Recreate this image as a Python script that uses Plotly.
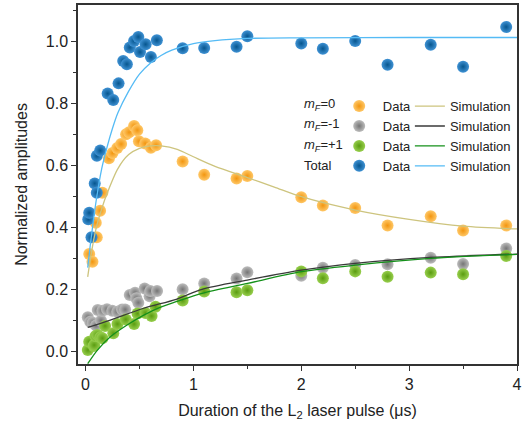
import plotly.graph_objects as go

# ---------------- data ----------------
# m_F = 0 (orange)
x_m0 = [0.034, 0.064, 0.095, 0.104, 0.135, 0.156, 0.217, 0.25, 0.294, 0.33, 0.376, 0.404,
        0.45, 0.48, 0.495, 0.553, 0.606, 0.654,
        0.9, 1.1, 1.4, 1.5, 2.0, 2.2, 2.5, 2.8, 3.2, 3.5, 3.9]
y_m0 = [0.314, 0.289, 0.415, 0.368, 0.454, 0.512, 0.623, 0.640, 0.656, 0.669, 0.701, 0.707,
        0.727, 0.714, 0.678, 0.671, 0.657, 0.665,
        0.613, 0.570, 0.558, 0.566, 0.497, 0.471, 0.463, 0.406, 0.436, 0.390, 0.406]

# m_F = -1 (grey)
x_mm1 = [0.021, 0.043, 0.067, 0.098, 0.113, 0.144, 0.156, 0.199, 0.248, 0.294, 0.339, 0.367,
         0.41, 0.459, 0.471, 0.489, 0.548, 0.594, 0.6, 0.663,
         0.9, 1.1, 1.4, 1.5, 2.0, 2.2, 2.5, 2.8, 3.2, 3.5, 3.9]
y_mm1 = [0.110, 0.095, 0.092, 0.083, 0.133, 0.099, 0.131, 0.136, 0.131, 0.128, 0.135, 0.135,
         0.182, 0.189, 0.171, 0.157, 0.203, 0.178, 0.195, 0.195,
         0.200, 0.219, 0.235, 0.255, 0.244, 0.270, 0.279, 0.281, 0.302, 0.282, 0.332]

# m_F = +1 (green)
x_mp1 = [0.021, 0.034, 0.076, 0.08, 0.092, 0.11, 0.138, 0.156, 0.181, 0.257, 0.296, 0.373,
         0.45, 0.482, 0.555, 0.612, 0.649,
         0.9, 1.1, 1.4, 1.5, 2.0, 2.2, 2.5, 2.8, 3.2, 3.5, 3.9]
y_mp1 = [0.004, 0.031, 0.017, 0.020, 0.049, 0.053, 0.045, 0.042, 0.082, 0.058, 0.088, 0.103,
         0.088, 0.122, 0.124, 0.114, 0.144,
         0.164, 0.193, 0.191, 0.197, 0.258, 0.236, 0.258, 0.241, 0.254, 0.249, 0.308]

# Total (blue)
x_tot = [0.025, 0.034, 0.055, 0.085, 0.104, 0.105, 0.136, 0.205, 0.257, 0.306, 0.349, 0.383,
         0.41, 0.45, 0.489, 0.505, 0.557, 0.606, 0.661,
         0.9, 1.1, 1.4, 1.5, 2.0, 2.2, 2.5, 2.8, 3.2, 3.5, 3.9]
y_tot = [0.426, 0.447, 0.368, 0.542, 0.512, 0.631, 0.648, 0.832, 0.811, 0.865, 0.937, 0.927,
         0.981, 1.002, 1.015, 0.966, 0.991, 0.950, 1.004,
         0.978, 0.979, 0.983, 1.017, 0.994, 0.977, 1.002, 0.925, 0.990, 0.919, 1.047]

# Simulation curves
xs_m0 = [0.02, 0.05, 0.1, 0.15, 0.2, 0.3, 0.4, 0.5, 0.6, 0.7, 0.85, 1.0, 1.2, 1.5, 1.75,
         2.0, 2.5, 3.0, 3.5, 4.0]
ys_m0 = [0.24, 0.31, 0.40, 0.46, 0.51, 0.59, 0.635, 0.655, 0.663, 0.663, 0.652, 0.628, 0.597,
         0.561, 0.53, 0.499, 0.456, 0.426, 0.404, 0.395]

xs_mm1 = [0.02, 0.23, 0.54, 0.84, 1.08, 1.5, 2.0, 2.5, 3.2, 4.0]
ys_mm1 = [0.077, 0.101, 0.139, 0.168, 0.200, 0.230, 0.262, 0.284, 0.303, 0.314]

xs_mp1 = [0.02, 0.11, 0.23, 0.385, 0.54, 0.69, 0.84, 1.08, 1.5, 2.0, 2.5, 3.2, 4.0]
ys_mp1 = [-0.04, 0.004, 0.047, 0.085, 0.117, 0.142, 0.160, 0.187, 0.219, 0.257, 0.278, 0.300,
          0.313]

xs_tot = [0.02, 0.05, 0.1, 0.15, 0.2, 0.25, 0.3, 0.4, 0.5, 0.6, 0.7, 0.8, 1.0, 1.2, 1.5,
          2.0, 3.0, 4.0]
ys_tot = [0.27, 0.36, 0.49, 0.59, 0.66, 0.72, 0.77, 0.84, 0.895, 0.93, 0.955, 0.972, 0.993,
          1.003, 1.01, 1.012, 1.013, 1.013]

labels = ["<i>m</i><sub><i>F</i></sub>=0", "<i>m</i><sub><i>F</i></sub>=-1",
          "<i>m</i><sub><i>F</i></sub>=+1", "Total"]

# ---------------- styles ----------------
FONT = "Liberation Sans, Arial, sans-serif"
series = [
    # x, y, xs, ys, center color, edge color, sim line colour, rank
    (x_m0, y_m0, xs_m0, ys_m0, "#ffc868", "#f29610", "#cdc47e", 1),
    (x_mm1, y_mm1, xs_mm1, ys_mm1, "#bdbdbd", "#757575", "#3a3a3a", 2),
    (x_mp1, y_mp1, xs_mp1, ys_mp1, "#98cf4e", "#5a9c10", "#14901a", 3),
    (x_tot, y_tot, xs_tot, ys_tot, "#3f92d4", "#06568f", "#55bbf5", 4),
]

fig = go.Figure()

# data markers: green under grey, blue on top
draw_order = [1, 2, 0, 3]
for i in draw_order:
    x, y, xs, ys, cc, ec, lc, rk = series[i]
    fig.add_trace(go.Scatter(
        x=x, y=y, mode="markers", name="\u00a0Data", legend="legend", legendrank=rk,
        marker=dict(size=12, color=cc, line=dict(width=0),
                    gradient=dict(type="radial", color=ec)),
    ))
for i in draw_order:
    x, y, xs, ys, cc, ec, lc, rk = series[i]
    fig.add_trace(go.Scatter(
        x=xs, y=ys, mode="lines", name="Simulation", legend="legend2", legendrank=rk,
        line=dict(color=lc, width=1.3, shape="spline", smoothing=0.8),
    ))

axis_common = dict(
    showline=True, linecolor="#333333", linewidth=1.5, mirror=True,
    ticks="outside", ticklen=5, tickwidth=1.2, tickcolor="#333333",
    showgrid=False, zeroline=False,
    tickfont=dict(family=FONT, size=16, color="#222222"),
    minor=dict(ticks="outside", ticklen=3, tickwidth=1.2, tickcolor="#333333"),
)

fig.update_xaxes(range=[-0.07, 4.0], dtick=1, tick0=0, minor_dtick=0.5,
                 title=dict(text="Duration of the L<sub>2</sub> laser pulse (μs)",
                            font=dict(family=FONT, size=16, color="#222222"), standoff=14),
                 **axis_common)
fig.update_yaxes(range=[-0.041, 1.118], dtick=0.2, tick0=0, minor_dtick=0.1,
                 tickformat=".1f",
                 title=dict(text="Normalized amplitudes",
                            font=dict(family=FONT, size=16, color="#222222"), standoff=14),
                 **axis_common)

legend_common = dict(
    bgcolor="rgba(0,0,0,0)", borderwidth=0, yanchor="top", xanchor="left",
    font=dict(family=FONT, size=13, color="#222222"), tracegroupgap=0,
    traceorder="normal",
)
fig.update_layout(
    width=525, height=421,
    margin=dict(l=78, r=3, t=5, b=57),
    paper_bgcolor="white", plot_bgcolor="white",
    showlegend=True,
    legend=dict(x=0.595, y=0.76, itemwidth=30, **legend_common),
    legend2=dict(x=0.756, y=0.76, itemwidth=30, **legend_common),
)

row_y = [0.724, 0.666, 0.610, 0.554]
for lab, yy in zip(labels, row_y):
    fig.add_annotation(text=lab, xref="paper", yref="paper", x=0.511, y=yy,
                       xanchor="left", yanchor="middle", showarrow=False,
                       font=dict(family=FONT, size=13, color="#222222"))

fig.write_html("out.html", config={"displayModeBar": False},
               post_script="document.body.style.margin='0';")
